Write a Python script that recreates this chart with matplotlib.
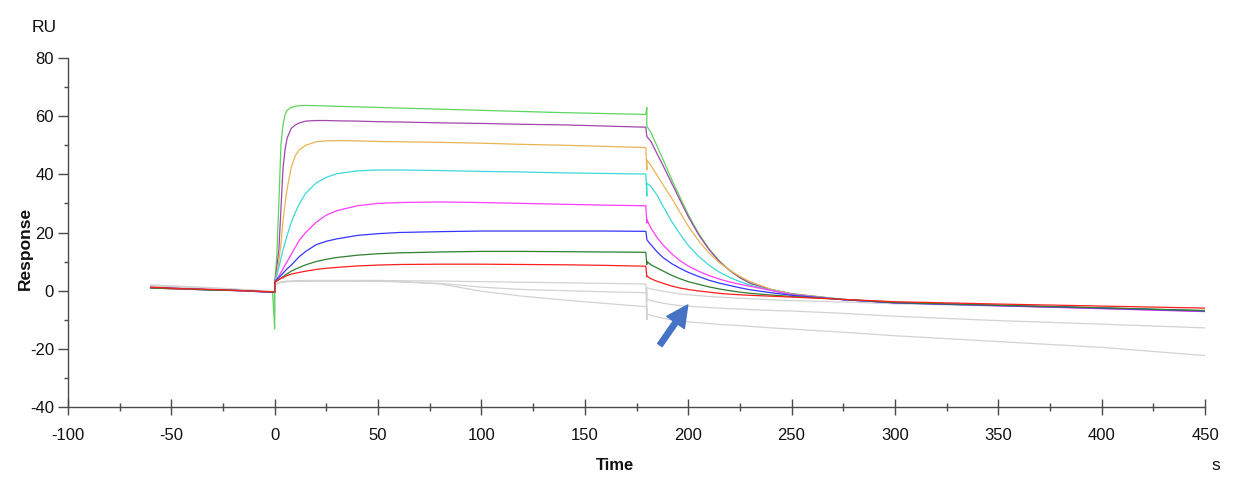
import matplotlib
matplotlib.use("Agg")
import matplotlib.pyplot as plt
from matplotlib.ticker import MultipleLocator

# ---------------- data ----------------
# shared time axis (s); duplicated 0 / 180 entries = injection artefact, then post-jump value
time_s = ([-60, -45, -30, -15, -1] +
          [0, 0] +
          [0.5, 1, 2, 3, 4, 5, 6, 8, 10, 12, 15, 20, 25, 30, 40, 50, 60, 80, 100, 120, 140, 160, 179.5] +
          [180, 180] +
          [182, 185, 188, 192, 196, 200, 205, 210, 215, 220, 225, 230, 240, 250, 275, 300, 350, 400, 450])

green = ([1.0, 0.6, 0.3, 0.0, -0.6] + [-13.2, 3.0] +
         [7, 12, 30, 50, 57, 60.5, 62, 63, 63.4, 63.6, 63.7, 63.6, 63.5, 63.4, 63.2, 63.0, 62.8, 62.4, 62.0, 61.6, 61.2, 60.9, 60.6] +
         [63.0, 56.5] +
         [54.4, 49.6, 44.8, 38.3, 32.2, 26.2, 19.7, 14.5, 10.3, 7.0, 4.4, 2.5, 0.4, -1.0, -3, -4, -5, -5.9, -6.9])
purple = ([1.1, 0.7, 0.3, 0.0, -0.5] + [-0.5, 3.0] +
          [5, 8, 14, 28, 42, 48.5, 52.5, 55.8, 57, 57.7, 58.3, 58.5, 58.5, 58.4, 58.3, 58.1, 58, 57.7, 57.5, 57.2, 57, 56.6, 56.2] +
          [53, 53] +
          [51.3, 47, 42.8, 37.0, 31.2, 25.5, 19.3, 14.2, 10.1, 7.0, 4.5, 2.6, 0.4, -1.1, -3.1, -4.1, -5.1, -6.1, -7.1])
orange = ([0.9, 0.5, 0.3, -0.1, -0.5] + [-0.5, 3.0] +
          [4, 6, 10, 16, 24, 30, 35, 42.5, 46.5, 48.5, 50, 51.2, 51.5, 51.6, 51.5, 51.3, 51.2, 51, 50.7, 50.3, 50, 49.6, 49.2] +
          [41.5, 45] +
          [43, 39.6, 36.2, 31.8, 27, 22.2, 17.2, 13, 9.7, 7.1, 4.9, 3.1, 0.5, -1.2, -3, -4.1, -5.1, -6, -7])
cyan = ([1.0, 0.6, 0.2, 0.0, -0.6] + [-0.5, 3.0] +
        [3.8, 5, 8, 11, 14, 16.5, 19, 23.5, 27, 30, 33.5, 37, 39, 40.2, 41.2, 41.5, 41.5, 41.3, 41, 40.8, 40.5, 40.3, 40.1] +
        [32.5, 37] +
        [35.8, 32.8, 28.8, 23.8, 19.5, 15.6, 11.8, 8.8, 6.4, 4.6, 3.1, 1.9, 0.1, -1.4, -3, -4.2, -5.2, -6, -7])
magenta = ([1.0, 0.5, 0.3, -0.1, -0.6] + [-0.5, 3.0] +
           [3.5, 4, 5, 6.2, 7.5, 8.8, 10, 12.5, 15, 17.5, 20, 23.5, 26, 27.5, 29.2, 30, 30.3, 30.5, 30.3, 30, 29.7, 29.4, 29.2] +
           [23.3, 24.5] +
           [21.5, 18.2, 15.6, 12.7, 10.3, 8.5, 6.7, 5.2, 4.0, 3.0, 2.2, 1.5, 0.1, -1.4, -3.1, -4.2, -5.2, -6.2, -7.2])
blue = ([1.1, 0.7, 0.3, 0.0, -0.5] + [-0.5, 3.0] +
        [3.4, 3.8, 4.5, 5.2, 6, 6.8, 7.5, 8.8, 10.3, 11.8, 13.5, 15.8, 17, 17.8, 19, 19.6, 20, 20.3, 20.5, 20.5, 20.5, 20.5, 20.4] +
        [18, 17.5] +
        [15.8, 13.3, 11.3, 9.3, 7.7, 6.3, 4.9, 3.6, 2.6, 1.8, 1.0, 0.3, -0.7, -1.6, -3.1, -4.2, -5.1, -6, -7])
darkgreen = ([0.9, 0.6, 0.2, 0.0, -0.5] + [-0.5, 3.0] +
             [3.2, 3.4, 3.8, 4.3, 4.8, 5.3, 5.8, 6.7, 7.4, 8, 8.9, 10, 10.8, 11.4, 12.2, 12.7, 13, 13.3, 13.5, 13.5, 13.4, 13.3, 13.2] +
             [9, 10] +
             [8.9, 7.8, 6.7, 5.3, 4.1, 3.1, 2.2, 1.3, 0.6, 0.0, -0.5, -0.9, -1.5, -2.0, -3, -4.1, -5, -5.9, -6.9])
red = ([1.2, 0.7, 0.4, 0.0, -0.4] + [-0.5, 3.0] +
       [3.1, 3.3, 3.8, 4.2, 4.5, 4.9, 5.2, 5.7, 6, 6.3, 6.7, 7.3, 7.7, 8, 8.5, 8.8, 9, 9.1, 9.1, 9, 8.9, 8.7, 8.4] +
       [4.8, 5] +
       [4.1, 3.2, 2.5, 1.6, 0.9, 0.4, -0.1, -0.5, -0.9, -1.2, -1.4, -1.6, -1.9, -2.2, -3, -3.8, -4.6, -5.3, -6])
gray1 = ([2.0, 1.5, 1.0, 0.4, -0.3] + [-9.5, 2.0] +
         [2.3, 2.5, 2.8, 3, 3.1, 3.2, 3.3, 3.3, 3.4, 3.4, 3.5, 3.5, 3.5, 3.5, 3.5, 3.5, 3.4, 3.3, 3.1, 2.9, 2.7, 2.5, 2.3] +
         [-10, 1] +
         [0.6, 0.2, -0.2, -0.7, -1.1, -1.4, -1.7, -2, -2.2, -2.4, -2.6, -2.8, -3.1, -3.4, -3.9, -4.5, -5.3, -6, -6.6])
gray2 = ([1.8, 1.3, 0.8, 0.3, -0.3] + [-0.5, 2.0] +
         [2.2, 2.4, 2.7, 2.9, 3, 3.1, 3.2, 3.2, 3.3, 3.3, 3.3, 3.4, 3.4, 3.4, 3.3, 3.2, 3.0, 2.5, 1.2, 0.4, 0, -0.4, -0.7] +
         [-0.7, -3] +
         [-3.4, -3.9, -4.3, -4.8, -5.1, -5.3, -5.6, -5.8, -6, -6.2, -6.3, -6.5, -6.8, -7, -7.8, -8.8, -10.3, -11.5, -12.8])
gray3 = ([1.6, 1.1, 0.6, 0.2, -0.4] + [-0.5, 2.0] +
         [2.1, 2.3, 2.6, 2.8, 2.9, 3, 3.1, 3.1, 3.2, 3.2, 3.3, 3.3, 3.3, 3.3, 3.3, 3.3, 3.2, 2.3, -0.2, -1.9, -3.2, -4.4, -5.5] +
         [-5.5, -8] +
         [-8.5, -9, -9.5, -10, -10.4, -10.7, -11, -11.3, -11.6, -11.8, -12, -12.3, -12.8, -13.2, -14.3, -15.5, -17.5, -19.5, -22.3])

x_ticks = [-100, -50, 0, 50, 100, 150, 200, 250, 300, 350, 400, 450]
y_ticks = [-40, -20, 0, 20, 40, 60, 80]

# arrow (pointing at the lowest concentration curve)
arrow_tail = (186.3, -18.7)
arrow_head = (199.8, -4.9)

# ---------------- plot ----------------
plt.rcParams['font.family'] = ['Liberation Sans', 'DejaVu Sans']
plt.rcParams['axes.unicode_minus'] = False

W, H = 1233, 484
fig = plt.figure(figsize=(W / 100, H / 100), dpi=100)
ax = fig.add_axes([68 / W, 1 - 407 / H, (1205 - 68) / W, (407 - 58) / H])

lw = 0.9
gray_c = '#d2d2d2'
for g in (gray1, gray2, gray3):
    ax.plot(time_s, g, color=gray_c, lw=lw)

series = [
    (green, '#5cd65c'),
    (purple, '#a046ac'),
    (orange, '#e9b455'),
    (cyan, '#3dd8d8'),
    (magenta, '#ff3cff'),
    (blue, '#3535ff'),
    (darkgreen, '#2f7d2f'),
    (red, '#ff1e1e'),
]
for vals, c in series:
    assert len(vals) == len(time_s)
    ax.plot(time_s, vals, color=c, lw=lw)

ax.annotate('', xy=arrow_head, xytext=arrow_tail,
            arrowprops=dict(arrowstyle='simple,head_length=1.1,head_width=1.1,tail_width=0.28',
                            color='#4472c4', mutation_scale=14, shrinkA=0, shrinkB=0))

ax.set_xlim(-100, 450)
ax.set_ylim(-40, 80)
ax.set_xticks(x_ticks)
ax.set_yticks(y_ticks)
ax.xaxis.set_minor_locator(MultipleLocator(25))
ax.yaxis.set_minor_locator(MultipleLocator(10))

spc = '#4a4a4a'
for s in ('top', 'right'):
    ax.spines[s].set_visible(False)
for s in ('left', 'bottom'):
    ax.spines[s].set_color(spc)
    ax.spines[s].set_linewidth(1.0)

ax.tick_params(axis='x', which='major', direction='inout', length=12, width=1, color=spc,
               pad=9, labelsize=12, labelcolor='#111111')
ax.tick_params(axis='x', which='minor', direction='inout', length=6, width=1, color=spc)
ax.tick_params(axis='y', which='major', direction='out', length=7, width=1, color=spc,
               pad=3, labelsize=12, labelcolor='#111111')
ax.tick_params(axis='y', which='minor', direction='out', length=3, width=1, color=spc)

fig.text(25 / W, 1 - 248 / H, 'Response', rotation=90, ha='center', va='center',
         fontsize=12.5, fontweight='bold', color='#111111')
fig.text(615 / W, 1 - 466 / H, 'Time', ha='center', va='center',
         fontsize=12, fontweight='bold', color='#111111')
fig.text(1216 / W, 1 - 466 / H, 's', ha='center', va='center',
         fontsize=12.5, color='#111111')
fig.text(44 / W, 1 - 27 / H, 'RU', ha='center', va='center',
         fontsize=12.5, color='#111111')

fig.savefig('out.png', dpi=100)
